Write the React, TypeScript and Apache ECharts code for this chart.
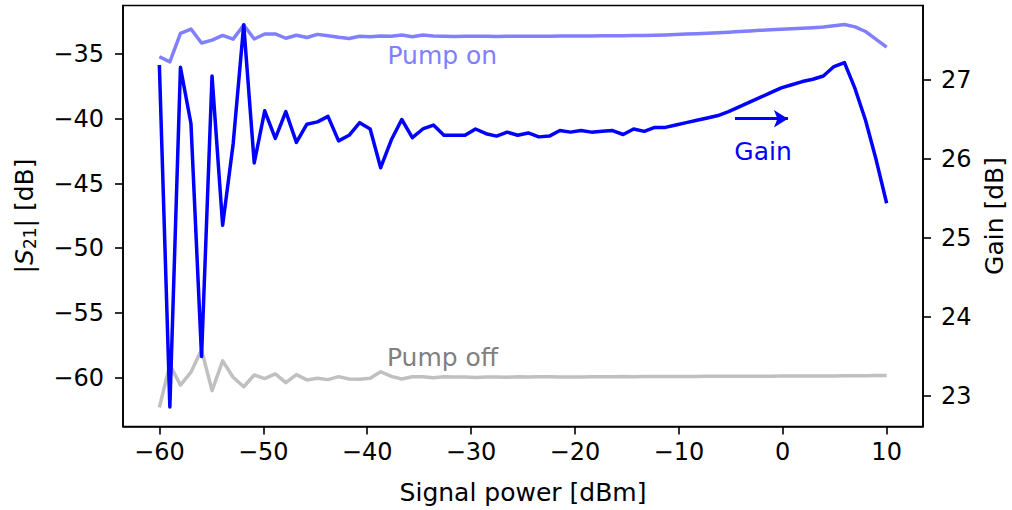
import React, { useEffect, useRef } from "react";
import * as echarts from "echarts";

// Signal power grid (dBm), 70 points from -60 to 10
const signalPower = [
  -60.0, -58.99, -57.97, -56.96, -55.94, -54.93, -53.91, -52.9, -51.88, -50.87,
  -49.86, -48.84, -47.83, -46.81, -45.8, -44.78, -43.77, -42.75, -41.74, -40.72,
  -39.71, -38.7, -37.68, -36.67, -35.65, -34.64, -33.62, -32.61, -31.59, -30.58,
  -29.57, -28.55, -27.54, -26.52, -25.51, -24.49, -23.48, -22.46, -21.45, -20.43,
  -19.42, -18.41, -17.39, -16.38, -15.36, -14.35, -13.33, -12.32, -11.3, -10.29,
  -9.28, -8.26, -7.25, -6.23, -5.22, -4.2, -3.19, -2.17, -1.16, -0.14,
  0.87, 1.88, 2.9, 3.91, 4.93, 5.94, 6.96, 7.97, 8.99, 10.0,
];

// |S21| with pump on (dB)
const pumpOn = [
  -35.21, -35.6, -33.4, -33.07, -34.15, -33.92, -33.56, -33.85, -32.76, -33.84,
  -33.45, -33.45, -33.78, -33.55, -33.72, -33.48, -33.58, -33.71, -33.8, -33.63,
  -33.66, -33.6, -33.62, -33.53, -33.66, -33.53, -33.6, -33.62, -33.64, -33.63,
  -33.62, -33.63, -33.64, -33.63, -33.62, -33.63, -33.62, -33.62, -33.61, -33.61,
  -33.6, -33.6, -33.59, -33.58, -33.58, -33.57, -33.56, -33.54, -33.52, -33.49,
  -33.46, -33.43, -33.39, -33.35, -33.31, -33.26, -33.22, -33.17, -33.13, -33.08,
  -33.04, -33.0, -32.96, -32.91, -32.82, -32.72, -32.9, -33.26, -33.86, -34.46,
];

// |S21| with pump off (dB)
const pumpOff = [
  -62.3, -59.0, -60.57, -59.57, -57.85, -61.0, -58.7, -59.97, -60.7, -59.79,
  -60.07, -59.71, -60.38, -59.76, -60.17, -60.05, -60.15, -59.92, -60.1, -60.12,
  -60.05, -59.54, -59.9, -60.1, -59.93, -59.92, -60.0, -59.93, -59.95, -59.94,
  -59.98, -59.95, -59.94, -59.96, -59.93, -59.95, -59.92, -59.93, -59.95, -59.94,
  -59.94, -59.93, -59.93, -59.92, -59.91, -59.92, -59.91, -59.91, -59.9, -59.9,
  -59.9, -59.9, -59.89, -59.89, -59.89, -59.89, -59.88, -59.88, -59.88, -59.87,
  -59.87, -59.87, -59.86, -59.86, -59.86, -59.85, -59.85, -59.85, -59.84, -59.84,
];

// Gain (dB)
const gain = [
  27.19, 22.86, 27.16, 26.45, 23.5, 27.05, 25.16, 26.19, 27.7, 25.95,
  26.61, 26.26, 26.6, 26.21, 26.44, 26.47, 26.54, 26.23, 26.3, 26.46,
  26.38, 25.89, 26.24, 26.5, 26.27, 26.38, 26.43, 26.3, 26.3, 26.3,
  26.38, 26.32, 26.29, 26.34, 26.3, 26.33, 26.28, 26.29, 26.36, 26.34,
  26.36, 26.34, 26.35, 26.36, 26.31, 26.38, 26.35, 26.4, 26.4, 26.43,
  26.46, 26.49, 26.52, 26.55, 26.6, 26.66, 26.72, 26.78, 26.84, 26.9,
  26.94, 26.98, 27.01, 27.05, 27.17, 27.22, 26.89, 26.49, 25.99, 25.44,
];

const xTicks = [-60, -50, -40, -30, -20, -10, 0, 10];
const s21Ticks = [-60, -55, -50, -45, -40, -35];
const gainTicks = [23, 24, 25, 26, 27];

const FONT = '"DejaVu Sans", sans-serif';
const TICK_SIZE = 24;
const NAME_SIZE = 25;
const NOTE_SIZE = 25;
const LINE_W = 3.5;
const BLUE = "#0000ff";
const LIGHT_BLUE = "#8080ff";
const LIGHT_GRAY = "#c0c0c0";
const TEXT_GRAY = "#808080";

const minus = (v: number) => String(v).replace("-", "\u2212");

const pairs = (ys: number[]) => signalPower.map((x, i) => [x, ys[i]]);

export default function App() {
  const ref = useRef<HTMLDivElement>(null);

  useEffect(() => {
    if (!ref.current) return;
    const chart = echarts.init(ref.current, undefined, { renderer: "svg" });

    const axisLine = { show: true, onZero: false, lineStyle: { color: "#000", width: 1.6 } };
    const tickStyle = { show: true, length: 8, lineStyle: { color: "#000", width: 1.6 } };
    const tickLabel = { color: "#000", fontFamily: FONT, fontSize: TICK_SIZE };
    const nameStyle = { color: "#000", fontFamily: FONT, fontSize: NAME_SIZE };

    chart.setOption({
      animation: false,
      grid: {
        left: 123,
        right: 89,
        top: 5.5,
        bottom: 83.5,
        outerBoundsMode: "none",
        containLabel: false,
        show: true,
        borderColor: "#000",
        borderWidth: 1.6,
        backgroundColor: "transparent",
      },
      xAxis: {
        type: "value",
        min: -63.5,
        max: 13.5,
        axisLine,
        splitLine: { show: false },
        axisTick: { ...tickStyle, customValues: xTicks },
        axisLabel: { ...tickLabel, customValues: xTicks, formatter: minus, margin: 13 },
        name: "Signal power [dBm]",
        nameLocation: "middle",
        nameGap: 53,
        nameTextStyle: nameStyle,
      },
      yAxis: [
        {
          type: "value",
          position: "left",
          min: -63.77,
          max: -31.25,
          axisLine,
          splitLine: { show: false },
          axisTick: { ...tickStyle, customValues: s21Ticks },
          axisLabel: { ...tickLabel, customValues: s21Ticks, formatter: minus, margin: 19 },
          name: "|{i|S}{sub|21}| [dB]",
          nameLocation: "middle",
          nameGap: 85,
          nameRotate: 90,
          nameTextStyle: {
            ...nameStyle,
            rich: {
              i: { fontFamily: FONT, fontSize: NAME_SIZE, fontStyle: "italic", color: "#000" },
              sub: {
                fontFamily: FONT,
                fontSize: 17,
                color: "#000",
                verticalAlign: "bottom",
                padding: [11, 0, 0, 0],
              },
            },
          },
        },
        {
          type: "value",
          position: "right",
          min: 22.614,
          max: 27.943,
          alignTicks: false,
          axisLine,
          splitLine: { show: false },
          axisTick: { ...tickStyle, customValues: gainTicks },
          axisLabel: { ...tickLabel, customValues: gainTicks, margin: 18 },
          name: "Gain [dB]",
          nameLocation: "middle",
          nameGap: 59,
          nameRotate: 90,
          nameTextStyle: nameStyle,
        },
      ],
      series: [
        {
          name: "Pump off",
          type: "line",
          yAxisIndex: 0,
          data: pairs(pumpOff),
          showSymbol: false,
          lineStyle: { color: LIGHT_GRAY, width: LINE_W, join: "round", cap: "butt" },
          z: 2,
        },
        {
          name: "Pump on",
          type: "line",
          yAxisIndex: 0,
          data: pairs(pumpOn),
          showSymbol: false,
          lineStyle: { color: LIGHT_BLUE, width: LINE_W, join: "round", cap: "butt" },
          z: 3,
        },
        {
          name: "Gain",
          type: "line",
          yAxisIndex: 1,
          data: pairs(gain),
          showSymbol: false,
          lineStyle: { color: BLUE, width: LINE_W, join: "round", cap: "butt" },
          z: 4,
          markLine: {
            silent: true,
            symbol: ["none", "arrow"],
            symbolSize: [13, 14],
            label: { show: false },
            lineStyle: { color: BLUE, width: 3, type: "solid" },
            data: [
              [
                { coord: [-4.6, 26.51] },
                { coord: [0.5, 26.51] },
              ],
            ],
          },
        },
      ],
    });

    // Annotations placed in data coordinates
    const onPos = chart.convertToPixel({ seriesIndex: 1 }, [-38.05, -35.08]) as number[];
    const offPos = chart.convertToPixel({ seriesIndex: 0 }, [-38.1, -58.47]) as number[];
    const gainPos = chart.convertToPixel({ seriesIndex: 2 }, [-1.9, 26.1]) as number[];

    const label = (text: string, p: number[], fill: string, align: string) => ({
      type: "text",
      x: p[0],
      y: p[1],
      style: {
        text,
        fill,
        font: `${NOTE_SIZE}px ${FONT}`,
        align,
        verticalAlign: "middle",
      },
      z: 10,
    });

    chart.setOption({
      graphic: [
        label("Pump on", onPos, LIGHT_BLUE, "left"),
        label("Pump off", offPos, TEXT_GRAY, "left"),
        label("Gain", gainPos, BLUE, "center"),
      ],
    });

    return () => chart.dispose();
  }, []);

  return (
    <div
      ref={ref}
      style={{ position: "absolute", left: 0, top: 0, width: 1012, height: 510 }}
    />
  );
}
